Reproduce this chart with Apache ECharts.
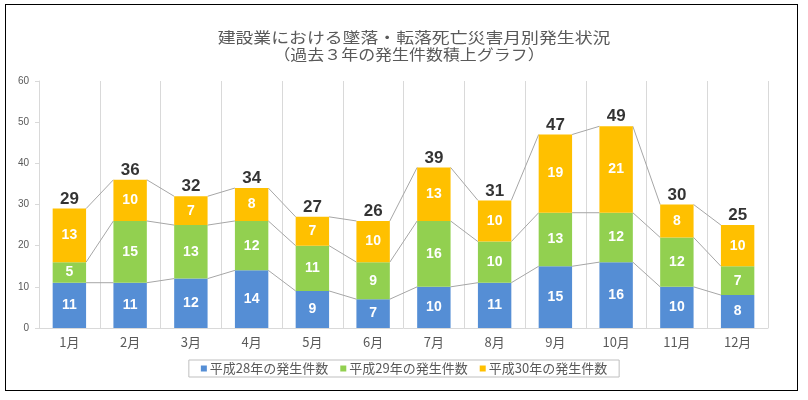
<!DOCTYPE html>
<html><head><meta charset="utf-8">
<script src="https://cdn.jsdelivr.net/npm/echarts@6/dist/echarts.min.js"></script>
<style>html,body{margin:0;padding:0;background:#fff}
#frame{position:absolute;left:5px;top:4px;width:791px;height:385px;border:1px solid #000;box-sizing:content-box}
#c{position:absolute;left:0;top:0;width:808px;height:400px}</style>
</head><body><div id="frame"></div><div id="c"></div>
<script>
const categories = ['1月','2月','3月','4月','5月','6月','7月','8月','9月','10月','11月','12月'];
const seriesNames = ['平成28年の発生件数','平成29年の発生件数','平成30年の発生件数'];
const h28 = [11,11,12,14,9,7,10,11,15,16,10,8];
const h29 = [5,15,13,12,11,9,16,10,13,12,12,7];
const h30 = [13,10,7,8,7,10,13,10,19,21,8,10];
const yTicks = [0,10,20,30,40,50,60];
const titleLines = ['建設業における墜落・転落死亡災害月別発生状況', '（過去３年の発生件数積上グラフ）'];
const colors = ['#558ED5','#92D050','#FFC000'];

const totals = categories.map((_, i) => h28[i] + h29[i] + h30[i]);
const cum1 = h28.slice();
const cum2 = h28.map((v, i) => v + h29[i]);
const lineData = categories.slice(0, -1).map((_, i) => [i, cum1[i], cum2[i], totals[i], cum1[i+1], cum2[i+1], totals[i+1]]);
const BAR = 0.55;

const chart = echarts.init(document.getElementById('c'), null, {renderer: 'canvas'});
const font = "'Noto Sans CJK JP', sans-serif";
const barLabel = {show: true, position: 'inside', color: '#fff', fontWeight: 'bold', fontSize: 14, fontFamily: 'Liberation Sans, Arial, sans-serif'};
chart.setOption({
  animation: false,
  graphic: [
    {type: 'text', x: 414, y: 37, scaleX: 1.19, silent: true,
      style: {text: titleLines[0], textAlign: 'center', textVerticalAlign: 'middle', font: "normal 15px 'Noto Sans CJK JP'", fill: '#595959'}},
    {type: 'text', x: 409, y: 54, scaleX: 1.13, silent: true,
      style: {text: titleLines[1], textAlign: 'center', textVerticalAlign: 'middle', font: "normal 15px 'Noto Sans CJK JP'", fill: '#595959'}}
  ],
  legend: {
    bottom: 23, left: 'center',
    data: seriesNames,
    icon: 'rect', itemWidth: 6, itemHeight: 6, itemGap: 12,
    borderColor: '#bfbfbf', borderWidth: 1, padding: [2, 12],
    textStyle: {fontFamily: font, fontSize: 13, color: '#595959', padding: [0, 0, 0, -2]}
  },
  grid: {left: 39, right: 40, top: 81, bottom: 72},
  xAxis: {
    type: 'category', data: categories,
    axisLine: {lineStyle: {color: '#d9d9d9'}},
    axisTick: {show: false},
    splitLine: {show: true, lineStyle: {color: '#d9d9d9'}},
    axisLabel: {fontFamily: font, fontSize: 13, color: '#595959', margin: 8}
  },
  yAxis: {
    type: 'value', min: yTicks[0], max: yTicks[yTicks.length-1], interval: 10,
    axisLine: {show: true, lineStyle: {color: '#d9d9d9'}},
    axisTick: {show: true, length: 4, lineStyle: {color: '#d9d9d9'}},
    splitLine: {show: false},
    axisLabel: {fontFamily: 'Liberation Sans, Arial, sans-serif', fontSize: 10, color: '#595959', margin: 10}
  },
  series: [
    {name: seriesNames[0], type: 'bar', stack: 's', data: h28, barWidth: (BAR*100)+'%', itemStyle: {color: colors[0]}, label: barLabel, z: 3},
    {name: seriesNames[1], type: 'bar', stack: 's', data: h29, itemStyle: {color: colors[1]}, label: barLabel, z: 3},
    {name: seriesNames[2], type: 'bar', stack: 's', data: h30, itemStyle: {color: colors[2]}, label: barLabel, z: 3},
    {
      type: 'custom', data: lineData, z: 2, silent: true,
      renderItem: function (params, api) {
        const i = api.value(0);
        const band = api.size([1, 0])[0];
        const half = band * BAR / 2;
        const children = [];
        for (let k = 0; k < 3; k++) {
          const a = api.coord([i, api.value(1 + k)]);
          const b = api.coord([i + 1, api.value(4 + k)]);
          children.push({type: 'line', shape: {x1: a[0] + half, y1: a[1], x2: b[0] - half, y2: b[1]},
            style: {stroke: '#a6a6a6', lineWidth: 1}});
        }
        return {type: 'group', children: children};
      }
    },
    {
      type: 'scatter', data: totals, symbolSize: 0, silent: true, z: 4,
      label: {show: true, position: 'top', distance: 1, color: '#000', fontWeight: 'bold', fontSize: 17,
        fontFamily: 'Liberation Sans Narrow, Liberation Sans, Arial, sans-serif'}
    }
  ]
});
</script></body></html>
